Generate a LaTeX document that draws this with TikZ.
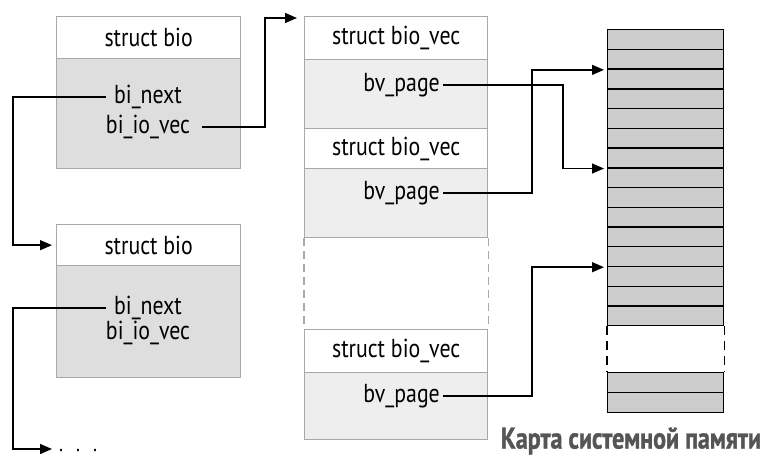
\documentclass[tikz,border=0pt]{standalone}
\usepackage{fontspec}
\setmainfont{PT Sans}[FakeStretch=0.84]
\newfontfamily\capfont{PT Sans Bold}[FakeStretch=0.8,FakeBold=1.2]
\usetikzlibrary{arrows.meta,calc}
\definecolor{boxline}{HTML}{A8A8A8}
\definecolor{biofill}{HTML}{DEDEDE}
\definecolor{vecfill}{HTML}{EEEEEE}
\definecolor{memfill}{HTML}{CCCCCC}
\definecolor{captxt}{HTML}{555555}
\begin{document}
\begin{tikzpicture}[x=1pt,y=-1pt,
  boxpart/.style={draw=boxline, line width=1.3pt, anchor=north west, inner sep=0pt,
    font=\fontsize{26}{28}\selectfont},
  biohdr/.style={boxpart, fill=white, minimum width=184pt},
  biobody/.style={boxpart, fill=biofill, minimum width=184pt},
  vechdr/.style={boxpart, fill=white, minimum width=183pt},
  vecbody/.style={boxpart, fill=vecfill, minimum width=183pt},
  txt/.style={inner sep=0pt, font=\fontsize{26}{28}\selectfont},
  memrow/.style={draw=black, line width=1.4pt, fill=memfill, anchor=north west,
    inner sep=0pt, minimum width=116pt},
  conn/.style={draw=black, line width=1.4pt},
  arr/.style={conn, -{Triangle[length=12pt,width=10pt]}},
]
\useasboundingbox (0,0) rectangle (770,457);

% first struct bio
\node[biohdr, minimum height=42pt] (b1h) at (56,16) {struct bio};
\node[biobody, minimum height=110pt] (b1b) at (56,58) {};
\node[txt] (b1next) at (148,97) {bi\_next};
\node[txt] (b1vec) at (148,127) {bi\_io\_vec};

% second struct bio
\node[biohdr, minimum height=41pt] (b2h) at (56,224) {struct bio};
\node[biobody, minimum height=112pt] (b2b) at (56,265) {};
\node[txt] (b2next) at (148,308) {bi\_next};
\node[txt] (b2vec) at (148,333) {bi\_io\_vec};
\node[inner sep=0pt, font=\fontsize{22}{22}\selectfont, anchor=base west] (dots)
  at (59,451) {.\hspace{13pt}.\hspace{13pt}.};
\coordinate (dend) at (52,449);

% bio_vec column
\node[vechdr, minimum height=43pt] (v1h) at (304,16) {struct bio\_vec};
\node[vecbody, minimum height=69pt] (v1b) at (304,59) {};
\node[vechdr, minimum height=40pt] (v2h) at (304,128) {struct bio\_vec};
\node[vecbody, minimum height=69pt] (v2b) at (304,168) {};
\node[vechdr, minimum height=43pt] (v3h) at (304,329) {struct bio\_vec};
\node[vecbody, minimum height=67pt] (v3b) at (304,372) {};
\node[txt, anchor=east] (p1) at (440,85) {bv\_page};
\node[txt, anchor=east] (p2) at (440,193) {bv\_page};
\node[txt, anchor=east] (p3) at (440,396) {bv\_page};
\draw[draw=boxline, line width=1.3pt, dash pattern=on 8pt off 5pt]
  (v2b.south west) -- (v3h.north west) (v2b.south east) -- (v3h.north east);

% memory map
\foreach \i in {0,...,14}
  \node[memrow, minimum height=19.73pt] (m\i) at (607,{29+\i*19.733}) {};
\node[memrow, minimum height=20pt] (m15) at (607,372) {};
\node[memrow, minimum height=20pt] (m16) at (607,392) {};
\draw[line width=1.4pt, dash pattern=on 9pt off 6pt]
  (m14.south west) -- (m15.north west) (m14.south east) -- (m15.north east);
\node[font=\capfont\fontsize{30}{32}\selectfont, text=captxt, inner sep=0pt] (cap)
  at (631,441) {Карта системной памяти};

% connectors
\coordinate (vin) at (297,18);
\draw[arr] ([xshift=-8pt]b1next.west) -| ($(b2h.west)+(-43,0)$) -- ([xshift=-4pt]b2h.west);
\draw[arr] ([xshift=-8pt]b2next.west) -| ($(dend)+(-39,0)$) -- (dend);
\draw[arr] ([xshift=12pt]b1vec.east) -| ($(vin)+(-32,0)$) -- (vin);
\draw[arr] ([xshift=3pt]p1.east) -| ($(m6.south west)+(-44,0)$) -- ([xshift=-3pt]m6.south west);
\draw[arr] ([xshift=3pt]p2.east) -| ($(m1.south west)+(-75,0)$) -- ([xshift=-3pt]m1.south west);
\draw[arr] ([xshift=3pt]p3.east) -| ($(m11.south west)+(-75,0)$) -- ([xshift=-3pt]m11.south west);
\end{tikzpicture}
\end{document}
